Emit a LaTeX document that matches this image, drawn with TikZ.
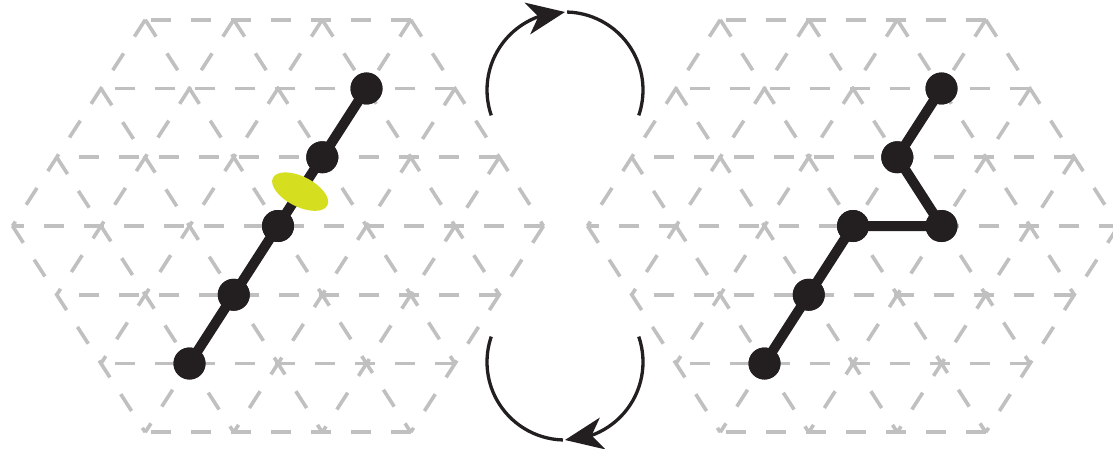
\documentclass[tikz,border=0pt]{standalone}
\usetikzlibrary{arrows.meta,bending,shapes.geometric,calc}
\definecolor{latgray}{RGB}{192,192,192}
\definecolor{beadblack}{RGB}{35,31,32}
\definecolor{blobyellow}{RGB}{214,222,32}
\tikzset{
  latline/.style={draw=latgray, line width=3.6pt, dash pattern=on 20pt off 20pt},
  bead/.style={circle, fill=beadblack, inner sep=0pt, minimum size=32pt},
  bond/.style={draw=beadblack, line width=10pt},
  blob/.style={ellipse, fill=blobyellow, inner sep=0pt, minimum width=61pt, minimum height=30pt, rotate=-27},
  fliparc/.style={draw=beadblack, line width=3.3pt},
  fliphead/.style={-{Stealth[length=38pt,width=32pt,inset=11pt]}},
  latbasis/.style={x={(88.5pt,0pt)}, y={(44.25pt,68.75pt)}}
}
\newcommand{\drawtrilattice}{%
  \foreach \j in {-3,...,3}{%
    \pgfmathtruncatemacro{\imin}{max(-3,-3-\j)}%
    \pgfmathtruncatemacro{\imax}{min(3,3-\j)}%
    \draw[latline] (\imax,\j) -- (\imin,\j);
  }%
  \foreach \i in {-3,...,3}{%
    \pgfmathtruncatemacro{\jmin}{max(-3,-3-\i)}%
    \pgfmathtruncatemacro{\jmax}{min(3,3-\i)}%
    \draw[latline] (\i,\jmax) -- (\i,\jmin);
  }%
  \foreach \k in {-3,...,3}{%
    \pgfmathtruncatemacro{\jmin}{max(-3,\k-3)}%
    \pgfmathtruncatemacro{\jmax}{min(3,\k+3)}%
    \pgfmathtruncatemacro{\itop}{\k-\jmax}%
    \pgfmathtruncatemacro{\ibot}{\k-\jmin}%
    \draw[latline] (\itop,\jmax) -- (\ibot,\jmin);
  }%
}
\begin{document}
\begin{tikzpicture}
\useasboundingbox (0,0) rectangle (1113pt,448pt);
\clip (0,0) rectangle (1113pt,448pt);

% left lattice and straight chain
\begin{scope}[shift={(278pt,222pt)}, latbasis]
  \drawtrilattice
  \node[bead] (L1) at (0,-2) {};
  \node[bead] (L2) at (0,-1) {};
  \node[bead] (L3) at (0,0) {};
  \node[bead] (L4) at (0,1) {};
  \node[bead] (L5) at (0,2) {};
  \draw[bond] (L1.center) -- (L2.center) -- (L3.center) -- (L4.center) -- (L5.center);
  \node[blob] (E) at ($(L3.center)!0.5!(L4.center)$) {};
  \foreach \n in {L1,L2,L3,L4,L5} \node[bead] at (\n) {};
\end{scope}

% right lattice and kinked chain
\begin{scope}[shift={(853pt,222pt)}, latbasis]
  \drawtrilattice
  \node[bead] (R1) at (0,-2) {};
  \node[bead] (R2) at (0,-1) {};
  \node[bead] (R3) at (0,0) {};
  \node[bead] (R4) at (1,0) {};
  \node[bead] (R5) at (0,1) {};
  \node[bead] (R6) at (0,2) {};
  \draw[bond, line join=miter] (R1.center) -- (R2.center) -- (R3.center) -- (R4.center) -- (R5.center) -- (R6.center);
  \foreach \n in {R1,R2,R3,R4,R5,R6} \node[bead] at (\n) {};
\end{scope}

% exchange arrows
\coordinate (TC) at (565pt,358pt);
\coordinate (BC) at (565pt,86pt);
\draw[fliparc, fliphead] ([shift={(199:78pt)}]TC) arc[start angle=199, end angle=90, radius=78pt];
\draw[fliparc] ([shift={(88.5:78pt)}]TC) arc[start angle=88.5, end angle=-19, radius=78pt];
\draw[fliparc, fliphead] ([shift={(19:78pt)}]BC) arc[start angle=19, end angle=-90, radius=78pt];
\draw[fliparc] ([shift={(-91.5:78pt)}]BC) arc[start angle=-91.5, end angle=-199, radius=78pt];
\end{tikzpicture}
\end{document}
